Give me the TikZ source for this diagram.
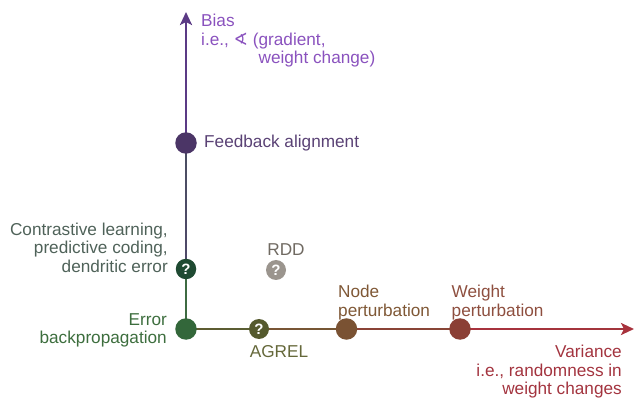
\documentclass[tikz,border=0pt]{standalone}
\usepackage{fontspec}
\setmainfont{Liberation Sans}
\newfontfamily\symfont{DejaVu Sans}
\usetikzlibrary{arrows.meta,calc,backgrounds}

% axis colours
\definecolor{axgreen}{HTML}{3E6B42}
\definecolor{axslate}{HTML}{4E4869}
\definecolor{axpurple}{HTML}{5B3A85}
\definecolor{axolive}{HTML}{5F5B30}
\definecolor{axbrown}{HTML}{7A5535}
\definecolor{axrust}{HTML}{8B4236}
\definecolor{axred}{HTML}{A8323D}
% dot colours
\definecolor{cfeed}{HTML}{4B3566}
\definecolor{ccontr}{HTML}{1F4A32}
\definecolor{cback}{HTML}{33673A}
\definecolor{cagrel}{HTML}{555A2E}
\definecolor{crdd}{HTML}{9B958E}
\definecolor{cnode}{HTML}{7A5233}
\definecolor{cweight}{HTML}{8B3F35}
% label colours
\definecolor{cbiast}{HTML}{8A52BE}
\definecolor{cfeedt}{HTML}{5A4275}
\definecolor{ccontrt}{HTML}{4F6259}
\definecolor{cbackt}{HTML}{3D6E3E}
\definecolor{cagrelt}{HTML}{65683A}
\definecolor{crddt}{HTML}{706A62}
\definecolor{cnodet}{HTML}{7F5836}
\definecolor{cweightt}{HTML}{8E4F3F}
\definecolor{cvart}{HTML}{A3343F}

\tikzset{
    dot/.style={circle,fill=#1,minimum size=21.5pt,inner sep=0pt,
        text=white,font=\bfseries\fontsize{15}{15}\selectfont},
    lbl/.style={inner sep=0pt,text=#1,font=\fontsize{17.2}{18.5}\selectfont},
    axis/.style={line width=2.6pt},
    axtip/.style={-{Stealth[length=13pt,width=12pt,inset=3pt]}}
}

\begin{document}
\begin{tikzpicture}[x=1pt,y=-1pt]
\useasboundingbox (0,0) rectangle (635,398);

\coordinate (ytip) at (186,12);
\coordinate (yend) at (186,24);
\coordinate (xtip) at (634,329);
\coordinate (xend) at (622,329);

\node[dot=cback] (bp) at (186,329) {};
\node[dot=ccontr,minimum size=20.5pt] (cl) at (186,269) {?};
\node[dot=cfeed] (fa) at (186,143) {};
\node[dot=cagrel,minimum size=20pt] (ag) at (259,329) {?};
\node[dot=crdd,minimum size=20pt] (rdd) at (276,270) {?};
\node[dot=cnode] (np) at (346.5,329) {};
\node[dot=cweight] (wp) at (460,329) {};

% axes with colour blend
\begin{scope}[on background layer]
\foreach \a/\b/\ca/\cb in {bp/cl/axgreen/axgreen, cl/fa/axgreen/axslate, fa/yend/axpurple/axpurple,
        bp/ag/axgreen/axolive, ag/np/axolive/axbrown, np/wp/axbrown/axrust, wp/xend/axrust/axred}
    \foreach \i [evaluate=\i as \p using int(100-5*\i)] in {0,...,19}
        \draw[axis,color=\ca!\p!\cb] ($(\a)!\i/20!(\b)$) -- ($(\a)!{(\i+1)/20}!(\b)$);
\draw[axis,axtip,color=axpurple] (yend) -- (ytip);
\draw[axis,axtip,color=axred] (xend) -- (xtip);
\end{scope}

\node[lbl=cbiast,anchor=north west,align=left] (bias) at (201,14)
    {Bias\\i.e., {\symfont ∢} (gradient,\\\hphantom{i.e., {\symfont ∢} (}weight change)};
\node[lbl=cfeedt,anchor=west] (fat) at (204,143) {Feedback alignment};
\node[lbl=ccontrt,anchor=north east,align=right] (clt) at (168,222.5)
    {Contrastive learning,\\predictive coding,\\dendritic error};
\node[lbl=crddt,anchor=north] (rddt) at (286,243) {RDD};
\node[lbl=cbackt,anchor=north east,align=right] (bpt) at (167,313) {Error\\backpropagation};
\node[lbl=cagrelt,anchor=north] (agt) at (279,345) {AGREL};
\node[lbl=cnodet,anchor=north west,align=left] (npt) at (338,285) {Node\\perturbation};
\node[lbl=cweightt,anchor=north west,align=left] (wpt) at (451.5,285) {Weight\\perturbation};
\node[lbl=cvart,anchor=north east,align=right] (vart) at (622,345)
    {Variance\\i.e., randomness in\\weight changes};

\end{tikzpicture}
\end{document}
